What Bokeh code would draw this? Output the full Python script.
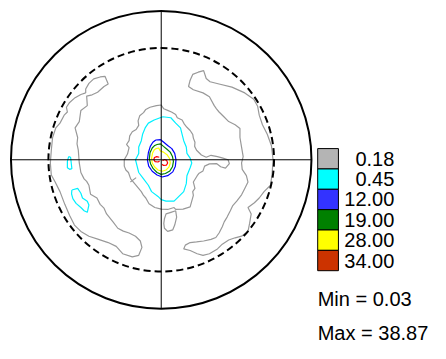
from bokeh.plotting import figure
from bokeh.models import Range1d
from bokeh.core.properties import value
from bokeh.embed import file_html
from bokeh.resources import INLINE

# ---- data (pole-figure coordinates, outer circle radius = 467.5 units) ----
levels = [0.18, 0.45, 12.00, 19.00, 28.00, 34.00]
level_colors = ["#b4b4b4", "#00ffff", "#3333ff", "#008000", "#ffff00", "#cc3300"]
line_colors = ["#999999", "#00f0ff", "#0000ff", "#008000", "#ffff00", "#ff0000"]
min_value = 0.03
max_value = 38.87
outer_radius = 467.5
inner_radius = 351.0

gray_center = [(-35, 165), (-15, 170), (0, 172), (8, 160), (20, 155), (32, 150), (45, 142), (50, 132),
               (65, 125), (72, 112), (80, 102), (90, 92), (98, 80), (100, 68), (105, 55), (104, 42),
               (110, 30), (125, 15), (140, 8), (155, 14), (175, 10), (192, 5), (208, 0), (212, -12),
               (200, -26), (185, -22), (172, -12), (150, -13), (135, -20), (130, -35), (118, -42),
               (112, -50), (100, -70), (105, -90), (98, -100), (100, -112), (95, -130), (90, -148),
               (68, -155), (45, -156), (40, -150), (20, -156), (0, -155), (-20, -150), (-38, -138),
               (-48, -120), (-55, -112), (-62, -100), (-80, -78), (-95, -60), (-102, -40),
               (-110, -32), (-115, -20), (-115, 0), (-105, 18), (-100, 38), (-108, 48), (-100, 60),
               (-98, 75), (-90, 88), (-78, 95), (-70, 108), (-72, 122), (-67, 138), (-55, 148),
               (-48, 158)]
gray_spur = [(-96, -70), (-78, -56)]
gray_below = [(10, -185), (15, -170), (30, -165), (45, -160), (48, -180), (42, -205), (36, -220),
              (20, -225), (10, -215), (8, -200)]
gray_left = [(-235, 210), (-235, 222), (-225, 240), (-210, 254), (-190, 260), (-175, 262),
             (-165, 238), (-178, 230), (-198, 212), (-215, 204), (-232, 200), (-230, 170),
             (-250, 155), (-255, 120), (-268, 100), (-260, 70), (-262, 50), (-258, 30),
             (-255, -10), (-250, -40), (-240, -60), (-232, -68), (-225, -80), (-220, -108),
             (-200, -120), (-190, -140), (-178, -152), (-170, -170), (-150, -195), (-135, -215),
             (-118, -224), (-100, -230), (-80, -240), (-65, -255), (-60, -275), (-70, -300),
             (-90, -305), (-120, -295), (-140, -272), (-165, -260), (-195, -250), (-225, -240),
             (-250, -225), (-270, -205), (-285, -175), (-300, -140), (-315, -100), (-330, -70),
             (-342, -48), (-345, -10), (-342, 30), (-338, 70), (-328, 100), (-315, 115),
             (-302, 140), (-292, 150), (-295, 165), (-285, 180), (-268, 195), (-250, 205)]
gray_right = [(90, 250), (98, 268), (115, 275), (132, 280), (140, 255), (152, 245), (180, 238),
              (220, 228), (260, 210), (288, 190), (300, 168), (305, 140), (315, 110), (330, 80),
              (343, 44), (348, 0), (345, -45), (340, -80), (320, -100), (305, -120), (290, -135),
              (270, -150), (280, -170), (275, -200), (270, -225), (250, -240), (230, -245),
              (210, -252), (190, -265), (175, -280), (150, -295), (130, -300), (112, -295),
              (90, -285), (70, -280), (75, -268), (90, -260), (110, -258), (132, -255),
              (155, -250), (170, -244), (180, -230), (190, -210), (196, -195), (205, -180),
              (215, -160), (222, -145), (235, -130), (250, -110), (260, -90), (270, -70),
              (265, -50), (252, -30), (250, -10), (255, 10), (250, 40), (245, 70), (245, 98),
              (230, 110), (210, 120), (195, 135), (180, 150), (172, 160), (165, 170), (150, 198),
              (130, 210), (100, 220), (85, 230)]
cyan_center = [(5, 135), (30, 132), (45, 115), (60, 100), (65, 80), (70, 60), (78, 40), (80, 20),
               (90, 5), (95, -10), (90, -25), (80, -50), (78, -75), (70, -100), (55, -115),
               (40, -130), (15, -130), (0, -125), (-10, -115), (-30, -100), (-40, -80), (-55, -60),
               (-70, -40), (-75, -20), (-80, 0), (-70, 20), (-70, 40), (-62, 60), (-58, 80),
               (-50, 100), (-40, 115), (-22, 125)]
cyan_left_small = [(-288, 10), (-282, 8), (-280, -10), (-278, -28), (-285, -30), (-292, -25), (-292, -5)]
cyan_left_low = [(-278, -95), (-260, -90), (-250, -105), (-245, -120), (-230, -130), (-225, -142),
                 (-230, -165), (-240, -160), (-250, -150), (-265, -137), (-275, -122), (-279, -107)]
blue_center = [(-17, 62), (-2, 63), (8, 55), (20, 45), (33, 35), (42, 20), (46, 0), (44, -20),
               (36, -38), (20, -50), (3, -54), (-13, -48), (-28, -36), (-39, -20), (-43, 0),
               (-40, 22), (-34, 42), (-26, 55)]
green_center = [(-13, 48), (-2, 50), (7, 42), (17, 34), (28, 24), (35, 10), (38, -5), (35, -22),
                (27, -35), (13, -43), (0, -46), (-13, -40), (-25, -28), (-33, -13), (-37, 3),
                (-35, 22), (-28, 37), (-20, 45)]
yellow_center = [(-16, 35), (-8, 37), (-3, 28), (7, 24), (18, 16), (26, 4), (28, -10), (24, -23),
                 (15, -32), (3, -36), (-10, -32), (-21, -22), (-28, -10), (-30, 5), (-27, 21),
                 (-22, 31)]
red_left = [(-6, 8), (-14, 10), (-21, 7), (-23, 0), (-19, -6), (-10, -7), (-5, -4)]
red_right = [(4, -3), (10, 1), (17, -2), (20, -10), (16, -17), (7, -18), (3, -14)]

contours = [
    (0, gray_center, True), (0, gray_spur, False), (0, gray_below, True),
    (0, gray_left, True), (0, gray_right, True),
    (1, cyan_center, True), (1, cyan_left_small, True), (1, cyan_left_low, True),
    (2, blue_center, True), (3, green_center, True), (4, yellow_center, True),
    (5, red_left, False), (5, red_right, False),
]

# ---- layout: the figure shows the reference 446x359 frame scaled to fit ----
W, H = 430, 343
REF_W, REF_H = 446, 359
CX, CY = 166.7, 166.7   # reference-pixel position of the pole-figure centre
U = 3.0                 # data units per reference pixel


def dx(rx):
    return (rx - CX) * U


def dy(ry):
    return (CY - ry) * U


p = figure(width=W, height=H, output_backend="svg", toolbar_location=None,
           x_range=Range1d(dx(0), dx(REF_W)), y_range=Range1d(dy(REF_H), dy(0)),
           min_border=0, min_border_left=0, min_border_right=0,
           min_border_top=0, min_border_bottom=0)
p.xaxis.visible = False
p.yaxis.visible = False
p.grid.visible = False
p.outline_line_color = None
p.background_fill_color = "white"
p.border_fill_color = "white"

for lvl, pts, closed in contours:
    xs = [a for a, b in pts]
    ys = [b for a, b in pts]
    if closed:
        xs.append(xs[0])
        ys.append(ys[0])
    p.line(xs, ys, line_color=line_colors[lvl], line_width=1.2)

# crosshair
p.line([-outer_radius, outer_radius], [0, 0], line_color="black", line_width=1)
p.line([0, 0], [-outer_radius, outer_radius], line_color="black", line_width=1)

# circles
p.ellipse(x=[0], y=[0], width=2 * inner_radius, height=2 * inner_radius, fill_color=None,
          line_color="black", line_width=2, line_dash="7 4")
p.ellipse(x=[0], y=[0], width=2 * outer_radius, height=2 * outer_radius, fill_color=None,
          line_color="black", line_width=2)

# legend
box_left, box_right = 329.0, 350.5
box_top, box_h = 155.0, 21.3
lefts, rights, tops, bottoms, labels_y = [], [], [], [], []
for i in range(len(levels)):
    t = box_top + i * box_h
    lefts.append(dx(box_left))
    rights.append(dx(box_right))
    tops.append(dy(t))
    bottoms.append(dy(t + box_h))
    labels_y.append(dy(t + box_h / 2))
p.quad(left=lefts, right=rights, top=tops, bottom=bottoms, fill_color=level_colors,
       line_color="black", line_width=1)
p.text(x=[dx(408.5)] * len(levels), y=labels_y, text=["%.2f" % v for v in levels],
       text_align="right", text_baseline="middle", text_font=value("Liberation Sans"),
       text_font_size="20px", text_color="black")
p.text(x=[dx(329.0), dx(329.0)], y=[dy(312), dy(348)],
       text=["Min = %.2f" % min_value, "Max = %.2f" % max_value],
       text_align="left", text_baseline="middle", text_font=value("Liberation Sans"),
       text_font_size="20px", text_color="black")

open("out.html", "w").write(file_html(p, INLINE))
